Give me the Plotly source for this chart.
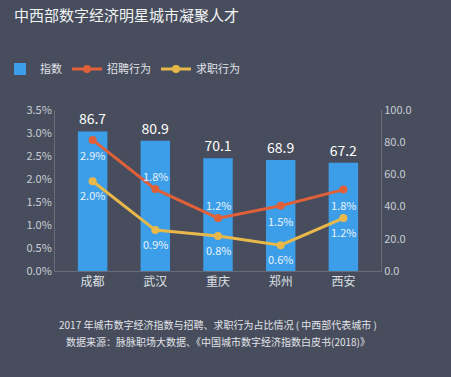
import plotly.graph_objects as go

cities = ["成都", "武汉", "重庆", "郑州", "西安"]
index_values = [86.7, 80.9, 70.1, 68.9, 67.2]
recruit_values = [2.85, 1.78, 1.15, 1.42, 1.77]
recruit_labels = ["2.9%", "1.8%", "1.2%", "1.5%", "1.8%"]
recruit_label_above = [False, True, True, False, False]
seek_values = [1.95, 0.89, 0.76, 0.56, 1.15]
seek_labels = ["2.0%", "0.9%", "0.8%", "0.6%", "1.2%"]
left_ticks = [0, 0.5, 1.0, 1.5, 2.0, 2.5, 3.0, 3.5]
right_ticks = [0, 20, 40, 60, 80, 100]

FONT = "Noto Sans CJK SC, Noto Sans, sans-serif"
BG = "#474d5c"
BLUE = "#3c9ee8"
ORANGE = "#e0603a"
YELLOW = "#e8b84a"
TICK = "#c9cdd6"
AXIS = "#666c7a"
LABEL = "#e8f2ff"

fig = go.Figure()
fig.add_trace(go.Bar(
    x=cities, y=index_values, name="指数", yaxis="y",
    marker=dict(color=BLUE, line=dict(width=0)), width=0.47,
    text=[f"{v:.1f}" for v in index_values], textposition="outside",
    textfont=dict(color="#ffffff", size=14, family=FONT), cliponaxis=False,
))
fig.add_trace(go.Scatter(
    x=cities, y=recruit_values, name="招聘行为", mode="lines+markers", yaxis="y2",
    line=dict(color=ORANGE, width=3), marker=dict(color=ORANGE, size=8), cliponaxis=False,
))
fig.add_trace(go.Scatter(
    x=cities, y=seek_values, name="求职行为", mode="lines+markers", yaxis="y2",
    line=dict(color=YELLOW, width=3), marker=dict(color=YELLOW, size=8), cliponaxis=False,
))

for c, v, t, above in zip(cities, recruit_values, recruit_labels, recruit_label_above):
    fig.add_annotation(x=c, y=v, xref="x", yref="y2", text=t, showarrow=False,
                       yshift=13 if above else -15,
                       font=dict(color=LABEL, size=11, family=FONT))
for c, v, t in zip(cities, seek_values, seek_labels):
    fig.add_annotation(x=c, y=v, xref="x", yref="y2", text=t, showarrow=False, yshift=-14,
                       font=dict(color=LABEL, size=11, family=FONT))

fig.update_layout(
    width=451, height=377,
    paper_bgcolor=BG, plot_bgcolor=BG,
    margin=dict(l=55, r=70, t=110, b=106, autoexpand=False),
    font=dict(family=FONT, color=TICK, size=11),
    showlegend=True,
    legend=dict(orientation="h", x=0.0, xref="container", y=0.817, yref="container",
                yanchor="middle", xanchor="left", font=dict(size=11, color="#e0e3ea"),
                bgcolor="rgba(0,0,0,0)", traceorder="normal"),
    title=dict(text="中西部数字经济明星城市凝聚人才", x=0.031, xanchor="left", y=0.957,
               yanchor="middle", font=dict(size=15, color="#f2f3f5", family=FONT)),
    xaxis=dict(range=[-0.6, 4.6], showgrid=False, showline=True, linecolor=AXIS, linewidth=1,
               ticks="", tickfont=dict(size=12, color="#dde0e6"), zeroline=False,
               automargin=False),
    yaxis=dict(range=[0, 100], tickvals=right_ticks, ticktext=[f"{v:.1f}" for v in right_ticks],
               side="right", showgrid=False, showline=True, linecolor=AXIS,
               zeroline=False, ticks="", tickfont=dict(size=11, color=TICK), automargin=False),
    yaxis2=dict(range=[0, 3.5], tickvals=left_ticks, ticktext=[f"{v:.1f}%" for v in left_ticks],
                overlaying="y", side="left", showgrid=False, showline=True, linecolor=AXIS,
                zeroline=False, ticks="", tickfont=dict(size=11, color=TICK), automargin=False),
)
fig.add_annotation(text="2017 年城市数字经济指数与招聘、求职行为占比情况 ( 中西部代表城市 )",
                   xref="paper", yref="paper", x=0.5, y=-0.335, xanchor="center", yanchor="middle",
                   showarrow=False, font=dict(size=10, color="#e2e4ea", family=FONT))
fig.add_annotation(text="数据来源：脉脉职场大数据、《中国城市数字经济指数白皮书(2018)》",
                   xref="paper", yref="paper", x=0.5, y=-0.44, xanchor="center", yanchor="middle",
                   showarrow=False, font=dict(size=10, color="#e2e4ea", family=FONT))

fig.write_html("out.html", config={"displayModeBar": False},
               post_script="document.body.style.margin='0px';")
